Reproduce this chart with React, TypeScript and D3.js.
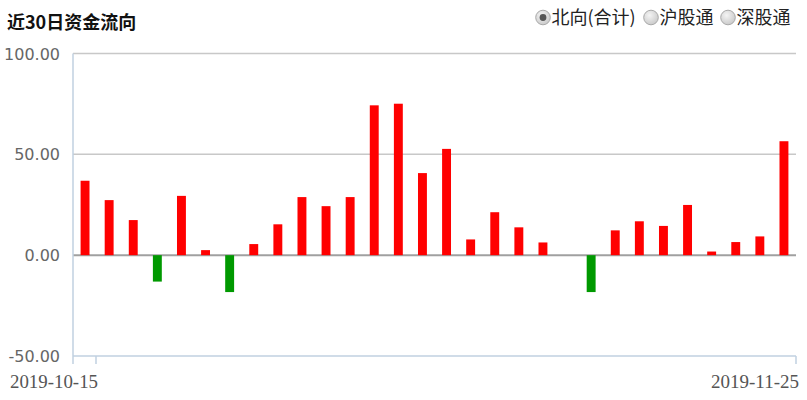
import * as d3 from 'd3';

const dates = [
  '2019-10-15', '2019-10-16', '2019-10-17', '2019-10-18', '2019-10-21',
  '2019-10-22', '2019-10-23', '2019-10-24', '2019-10-25', '2019-10-28',
  '2019-10-29', '2019-10-30', '2019-10-31', '2019-11-01', '2019-11-04',
  '2019-11-05', '2019-11-06', '2019-11-07', '2019-11-08', '2019-11-11',
  '2019-11-12', '2019-11-13', '2019-11-14', '2019-11-15', '2019-11-18',
  '2019-11-19', '2019-11-20', '2019-11-21', '2019-11-22', '2019-11-25',
];
const northbound = [
  36.9, 27.3, 17.4, -13.1, 29.4, 2.5, -18.3, 5.5, 15.3, 28.8,
  24.3, 28.8, 74.3, 75.1, 40.7, 52.7, 7.8, 21.3, 13.8, 6.3,
  0, -18.3, 12.3, 16.8, 14.5, 24.9, 1.8, 6.5, 9.3, 56.5,
];
const yTicks = [100, 50, 0, -50];
const xLabels = ['2019-10-15', '2019-11-25'];
const legendItems = ['北向(合计)', '沪股通', '深股通'];

const width = 807;
const height = 400;
const marginLeft = 73;
const marginRight = 11;
const marginTop = 53.5;
const marginBottom = 44;

export default function App() {
  const x = d3
    .scaleBand<string>()
    .domain(dates)
    .range([marginLeft, width - marginRight])
    .paddingInner(0.63)
    .paddingOuter(0.315);
  const y = d3
    .scaleLinear()
    .domain([-50, 100])
    .range([height - marginBottom, marginTop]);

  const legendX = [543, 651, 728];
  const sans = "'Noto Sans CJK SC', 'Microsoft YaHei', sans-serif";
  const fmt = (t: number) => d3.format('.2f')(t).replace('\u2212', '-');

  return (
    <svg
      width={width}
      height={height}
      style={{ position: 'absolute', left: 0, top: 0, background: '#fff' }}
    >
      <defs>
        <radialGradient id='radio' cx='40%' cy='35%' r='70%'>
          <stop offset='0%' stopColor='#f4f4f4' />
          <stop offset='100%' stopColor='#c8c8c8' />
        </radialGradient>
      </defs>

      <text x={7} y={28.5} fontFamily={sans} fontSize={18} fontWeight='bold' fill='#111'>
        近30日资金流向
      </text>

      {legendItems.map((name, i) => (
        <g key={name}>
          <circle cx={legendX[i]} cy={17.5} r={7.3} fill='url(#radio)' stroke='#a9a9a9' />
          {i === 0 && <circle cx={legendX[i]} cy={17.5} r={3.4} fill='#555' />}
          <text x={legendX[i] + 8.5} y={24} fontFamily={sans} fontSize={18} fill='#222'>
            {name}
          </text>
        </g>
      ))}

      {/* grid */}
      {yTicks.map((t) => (
        <line
          key={t}
          x1={marginLeft}
          x2={width - marginRight}
          y1={y(t)}
          y2={y(t)}
          stroke={t === 0 ? '#a0a0a0' : t === -50 ? '#c0d0e0' : '#c8c8c8'}
          strokeWidth={t === 0 ? 2 : 1.5}
        />
      ))}
      <line
        x1={marginLeft}
        x2={marginLeft}
        y1={marginTop}
        y2={height - marginBottom + 8}
        stroke='#c0d0e0'
        strokeWidth={1.5}
      />
      {[96, width - marginRight].map((tx) => (
        <line
          key={tx}
          x1={tx}
          x2={tx}
          y1={height - marginBottom}
          y2={height - marginBottom + 8}
          stroke='#c0d0e0'
          strokeWidth={1.5}
        />
      ))}

      {yTicks.map((t) => (
        <text
          key={t}
          x={60}
          y={y(t) + 6}
          textAnchor='end'
          fontFamily="'DejaVu Sans', sans-serif"
          fontSize={16}
          fill='#666'
        >
          {fmt(t)}
        </text>
      ))}

      {/* bars */}
      {northbound.map((v, i) => (
        <rect
          key={dates[i]}
          x={x(dates[i])}
          width={x.bandwidth()}
          y={Math.min(y(v), y(0))}
          height={Math.abs(y(v) - y(0))}
          fill={v >= 0 ? '#ff0000' : '#009900'}
        />
      ))}

      {xLabels.map((label, i) => (
        <text
          key={label}
          x={i === 0 ? 10 : 711}
          y={388}
          fontFamily="'Liberation Serif', serif"
          fontSize={18}
          fill='#555'
          textLength={88}
          lengthAdjust='spacingAndGlyphs'
        >
          {label}
        </text>
      ))}
    </svg>
  );
}
